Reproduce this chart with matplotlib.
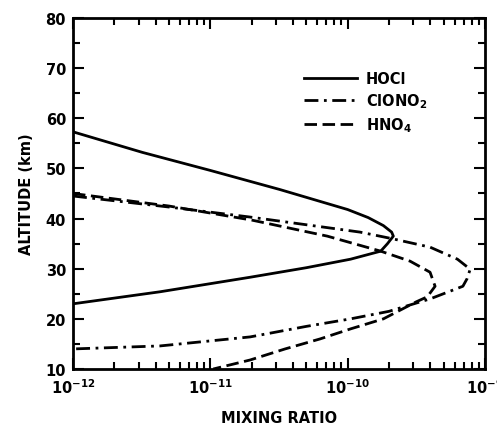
import matplotlib.pyplot as plt
from matplotlib.ticker import LogLocator, MultipleLocator, NullFormatter
from matplotlib.lines import Line2D

plt.rcParams['font.family'] = ['DejaVu Sans']
plt.rcParams['font.weight'] = 'bold'
plt.rcParams['mathtext.default'] = 'bf'

# HOCl profile (solid)
hocl_mr = [1.0e-12, 3.2e-12, 1.0e-11, 3.2e-11, 1.0e-10, 1.41e-10, 1.82e-10,
           2.09e-10, 2.15e-10, 1.95e-10, 1.74e-10, 1.05e-10, 5.0e-11, 1.95e-11,
           4.3e-12, 1.0e-12]
hocl_alt = [57.3, 53.2, 49.6, 45.8, 41.8, 40.2, 38.6,
            37.3, 36.5, 35.0, 33.5, 31.9, 30.2, 28.3,
            25.4, 23.0]

# ClONO2 profile (dash-dot)
clono2_mr = [1.0e-12, 5.0e-12, 1.95e-11, 1.23e-10, 2.1e-10, 3.98e-10, 6.3e-10,
             7.8e-10, 7.4e-10, 6.9e-10, 4.0e-10, 2.0e-10, 1.05e-10, 5.0e-11,
             1.95e-11, 4.3e-12, 1.0e-12]
clono2_alt = [44.5, 42.3, 40.3, 37.3, 36.0, 34.3, 31.9,
              29.9, 28.0, 26.5, 24.0, 21.5, 20.0, 18.5,
              16.4, 14.6, 14.0]

# HNO4 profile (dashed)
hno4_mr = [1.0e-12, 5.0e-12, 2.0e-11, 7.1e-11, 1.74e-10, 2.85e-10, 3.98e-10,
           4.33e-10, 3.8e-10, 3.16e-10, 1.82e-10, 1.05e-10, 6.3e-11, 3.5e-11,
           1.95e-11, 1.05e-11]
hno4_alt = [45.0, 42.5, 39.7, 36.5, 33.5, 31.5, 29.3,
            26.5, 24.4, 23.4, 20.0, 18.0, 16.0, 14.0,
            11.8, 10.0]

fig = plt.figure(figsize=(4.97, 4.27), dpi=100)
ax = fig.add_axes([73 / 497, 1 - 370 / 427, 412 / 497, 351 / 427])

lw = 2.0
dashdot = (5, 2, 1, 2)
dash = (4.5, 2)
ax.plot(hocl_mr, hocl_alt, color='black', lw=lw)
ax.plot(clono2_mr, clono2_alt, color='black', lw=lw, dashes=dashdot)
ax.plot(hno4_mr, hno4_alt, color='black', lw=lw, dashes=dash)

ax.set_xscale('log')
ax.set_xlim(1e-12, 1e-9)
ax.set_ylim(10, 80)

ax.xaxis.set_minor_locator(LogLocator(base=10, subs=range(2, 10), numticks=10))
ax.xaxis.set_minor_formatter(NullFormatter())
ax.set_xticks([1e-12, 1e-11, 1e-10, 1e-9])
ax.set_xticklabels([r'$10^{-12}$', r'$10^{-11}$', r'$10^{-10}$', r'$10^{-9}$'])
ax.yaxis.set_major_locator(MultipleLocator(10))
ax.yaxis.set_minor_locator(MultipleLocator(5))

ax.tick_params(which='both', direction='in', top=True, right=True, width=1.5)
ax.tick_params(which='major', length=8, labelsize=10.5)
ax.tick_params(axis='x', which='major', pad=6)
ax.tick_params(axis='y', which='major', pad=5)
ax.tick_params(which='minor', length=5)
for lab in ax.get_xticklabels() + ax.get_yticklabels():
    lab.set_fontweight('bold')

for s in ax.spines.values():
    s.set_linewidth(2.0)

ax.set_xlabel('MIXING RATIO', fontsize=10.5, fontweight='bold', labelpad=10)
ax.set_ylabel('ALTITUDE (km)', fontsize=10.5, fontweight='bold', labelpad=8)

handles = [Line2D([], [], color='black', lw=lw),
           Line2D([], [], color='black', lw=lw, dashes=dashdot),
           Line2D([], [], color='black', lw=lw, dashes=dash)]
labels = ['HOCl', r'ClONO$_2$', r'HNO$_4$']
ax.legend(handles, labels, loc='upper left', bbox_to_anchor=(0.53, 0.885),
          frameon=False, fontsize=10.5, handlelength=3.6, handletextpad=0.6,
          labelspacing=0.35)

fig.savefig('out.png', dpi=100)
